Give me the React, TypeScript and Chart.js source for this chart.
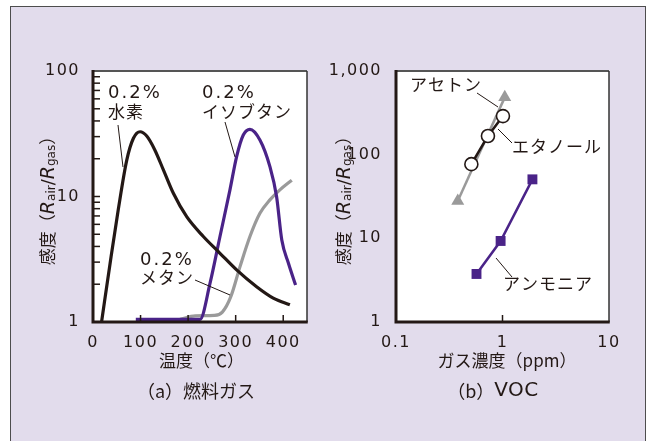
import React, { useEffect, useRef } from 'react';
import { Chart, registerables } from 'chart.js';
Chart.register(...registerables);

// ---------- Data: (a) fuel gases, sensitivity vs temperature ----------
const tempH2 = [18, 36, 53, 71, 85, 99, 113, 130, 148, 169, 197, 232, 267, 302, 344, 379, 414];
const sensH2 = [1, 2.94, 7.8, 19.5, 29.1, 32.8, 30.3, 23.5, 16.3, 10.6, 6.9, 4.8, 3.53, 2.6, 1.91, 1.55, 1.37];
const tempIsobutane = [90, 225, 246, 267, 288, 302, 316, 330, 351, 372, 386, 397, 411, 426];
const sensIsobutane = [1.05, 1.05, 2.03, 4.8, 11.3, 20.8, 30.9, 34.3, 28.2, 17.3, 10, 4.5, 2.94, 1.97];
const tempMethane = [183, 215, 255, 272, 290, 309, 330, 351, 372, 393, 418];
const sensMethane = [1.05, 1.12, 1.13, 1.2, 1.6, 2.75, 4.8, 7.35, 9.4, 11.3, 13.5];

const xTicksA = [0, 100, 200, 300, 400];
const xTickLabelsA = ['0', '100', '200', '300', '400'];
const yTicksA = [1, 10, 100];
const yTickLabelsA = ['1', '10', '100'];
const yMinorTicksA = [2, 3, 4, 5, 6, 7, 8, 9, 10, 20, 30, 40, 50, 60, 70, 80, 90];

// ---------- Data: (b) VOC, sensitivity vs concentration ----------
const concEthanol = [0.51, 0.73, 1.01];
const sensEthanol = [77, 167, 289];
const concAcetone = [0.38, 1.05];
const sensAcetone = [28, 484];
const concAmmonia = [0.57, 0.96, 1.91];
const sensAmmonia = [3.75, 9.3, 50.7];

const xTicksB = [0.1, 1, 10];
const xTickLabelsB = ['0.1', '1', '10'];
const yTicksB = [1, 10, 100, 1000];
const yTickLabelsB = ['1', '10', '100', '1,000'];

// ---------- Styles ----------
const INK = '#231815';
const PURPLE = '#4a2388';
const GRAY = '#9a9a9a';
const LAVENDER = '#e2dcec';
const CJK = '"Noto Sans CJK JP"';
const LAT = '"DejaVu Sans"';

const pts = (xs: number[], ys: number[]) => xs.map((x, i) => ({ x, y: ys[i] }));

type Seg = { t: string; font: string; ls?: number; dy?: number };

function drawRich(ctx: CanvasRenderingContext2D, segs: Seg[], x: number, y: number, align: 'left' | 'center') {
  let total = 0;
  const widths = segs.map((s) => {
    ctx.font = s.font;
    (ctx as any).letterSpacing = (s.ls || 0) + 'px';
    const w = ctx.measureText(s.t).width;
    total += w;
    return w;
  });
  let cx = align === 'center' ? x - total / 2 : x;
  ctx.textAlign = 'left';
  segs.forEach((s, i) => {
    ctx.font = s.font;
    (ctx as any).letterSpacing = (s.ls || 0) + 'px';
    ctx.fillText(s.t, cx, y + (s.dy || 0));
    cx += widths[i];
  });
  (ctx as any).letterSpacing = '0px';
}

function line(ctx: CanvasRenderingContext2D, x1: number, y1: number, x2: number, y2: number, w = 1, c = INK) {
  ctx.strokeStyle = c;
  ctx.lineWidth = w;
  ctx.beginPath();
  ctx.moveTo(x1, y1);
  ctx.lineTo(x2, y2);
  ctx.stroke();
}

function yTitle(ctx: CanvasRenderingContext2D, bx: number, cy: number) {
  ctx.save();
  ctx.translate(bx, cy);
  ctx.rotate(-Math.PI / 2);
  ctx.textBaseline = 'alphabetic';
  ctx.fillStyle = INK;
  drawRich(
    ctx,
    [
      { t: '感度（', font: `17px ${CJK}` },
      { t: 'R', font: `italic 19px ${LAT}` },
      { t: 'air', font: `12px ${LAT}`, dy: 1 },
      { t: '/', font: `18px ${LAT}` },
      { t: 'R', font: `italic 19px ${LAT}` },
      { t: 'gas', font: `12px ${LAT}`, dy: 1 },
      { t: '）', font: `17px ${CJK}` },
    ],
    0,
    0,
    'center'
  );
  ctx.restore();
}

function frame(chart: any, xTickVals: number[], yTickVals: number[]) {
  const { ctx, chartArea: a, scales } = chart;
  ctx.save();
  line(ctx, a.left, a.top, a.right, a.top, 2, '#555');
  line(ctx, a.right, a.top, a.right, a.bottom, 1.5, '#333');
  ctx.lineCap = 'butt';
  xTickVals.forEach((v) => {
    const px = scales.x.getPixelForValue(v);
    line(ctx, px, a.bottom, px, a.bottom - 7, 1.5);
  });
  yTickVals.forEach((v) => {
    const py = scales.y.getPixelForValue(v);
    line(ctx, a.left, py, a.left + 7, py, 1.5);
  });
  ctx.strokeStyle = INK;
  ctx.lineWidth = 3;
  ctx.beginPath();
  ctx.moveTo(a.left, a.top - 1);
  ctx.lineTo(a.left, a.bottom);
  ctx.lineTo(a.right + 0.75, a.bottom);
  ctx.stroke();
  ctx.restore();
}

function basePlugin(after: (chart: any) => void) {
  return {
    id: 'panelDeco',
    beforeDraw(chart: any) {
      const { ctx, chartArea: a } = chart;
      ctx.save();
      ctx.fillStyle = '#ffffff';
      ctx.fillRect(a.left, a.top, a.right - a.left, a.bottom - a.top);
      ctx.restore();
      ctx.letterSpacing = '1.5px';
    },
    beforeDatasetsDraw(chart: any) {
      chart.ctx.letterSpacing = '0px';
    },
    afterDraw(chart: any) {
      chart.ctx.letterSpacing = '0px';
      after(chart);
    },
  };
}

const tickFont = { family: 'DejaVu Sans', size: 16 };

function drawPanelA(chart: any) {
  const { ctx } = chart;
  frame(chart, xTicksA.slice(1), yMinorTicksA);
  ctx.save();
  ctx.fillStyle = INK;
  ctx.textBaseline = 'middle';
  const num = `18px ${LAT}`;
  const jp = `17px ${CJK}`;
  drawRich(ctx, [{ t: '0.2%', font: num, ls: 2 }], 108, 93, 'left');
  drawRich(ctx, [{ t: '水素', font: jp, ls: 1 }], 108, 112, 'left');
  drawRich(ctx, [{ t: '0.2%', font: num, ls: 2 }], 202, 93, 'left');
  drawRich(ctx, [{ t: 'イソブタン', font: jp, ls: 1 }], 202, 112, 'left');
  drawRich(ctx, [{ t: '0.2%', font: num, ls: 2 }], 140, 260, 'left');
  drawRich(ctx, [{ t: 'メタン', font: jp, ls: 1 }], 140, 278, 'left');
  line(ctx, 118, 125, 123, 167, 1);
  line(ctx, 225, 122, 235, 157, 1);
  line(ctx, 195, 280, 230, 295, 1);
  drawRich(ctx, [{ t: '温度（℃）', font: `17px ${CJK}` }], 201.5, 361, 'center');
  drawRich(ctx, [{ t: '（a）燃料ガス', font: `18px ${CJK}` }], 196, 391, 'center');
  ctx.restore();
  yTitle(ctx, 54, 196.5);
}

function drawPanelB(chart: any) {
  const { ctx } = chart;
  frame(chart, [1], []);
  ctx.save();
  ctx.fillStyle = INK;
  ctx.textBaseline = 'middle';
  const jp = `17px ${CJK}`;
  drawRich(ctx, [{ t: 'アセトン', font: jp, ls: 1 }], 410, 85, 'left');
  drawRich(ctx, [{ t: 'エタノール', font: jp, ls: 1 }], 512, 147, 'left');
  drawRich(ctx, [{ t: 'アンモニア', font: jp, ls: 1 }], 503, 284, 'left');
  line(ctx, 477, 93, 498, 107, 1);
  line(ctx, 498, 129, 512, 143, 1);
  line(ctx, 496, 258, 512, 277, 1);
  drawRich(ctx, [{ t: 'ガス濃度（ppm）', font: `17px ${CJK}` }], 507, 361, 'center');
  drawRich(
    ctx,
    [
      { t: '（b）', font: `18px ${CJK}` },
      { t: 'VOC', font: `20px ${LAT}`, ls: 0.5 },
    ],
    493,
    391,
    'center'
  );
  ctx.restore();
  yTitle(ctx, 350, 196.5);
}

function scaleCommon(ticks: number[], labels: string[], padding: number) {
  return {
    grid: { display: false },
    border: { display: false },
    afterBuildTicks: (s: any) => {
      s.ticks = ticks.map((v) => ({ value: v }));
    },
    ticks: {
      font: tickFont,
      color: INK,
      padding,
      autoSkip: false,
      maxRotation: 0,
      callback: (_v: any, i: number) => labels[i],
    },
  };
}

function makeConfigA(): any {
  return {
    type: 'line',
    data: {
      datasets: [
        { data: pts(tempH2, sensH2), borderColor: INK, borderWidth: 3.2, cubicInterpolationMode: 'monotone', pointRadius: 0 },
        { data: pts(tempIsobutane, sensIsobutane), borderColor: PURPLE, borderWidth: 3.2, cubicInterpolationMode: 'monotone', pointRadius: 0 },
        { data: pts(tempMethane, sensMethane), borderColor: GRAY, borderWidth: 3.2, cubicInterpolationMode: 'monotone', pointRadius: 0 },
      ],
    },
    options: {
      responsive: false,
      animation: false,
      devicePixelRatio: 1,
      events: [],
      layout: { padding: { left: 0, top: 71, right: 651 - 307, bottom: 441 - 322 - 30 } },
      plugins: { legend: { display: false }, tooltip: { enabled: false } },
      scales: {
        x: {
          type: 'linear',
          min: 0,
          max: 450,
          ...scaleCommon(xTicksA, xTickLabelsA, 3),
          afterFit: (s: any) => {
            s.height = 30;
          },
        },
        y: {
          type: 'logarithmic',
          min: 1,
          max: 100,
          ...scaleCommon(yTicksA, yTickLabelsA, 5),
          afterFit: (s: any) => {
            s.width = 93;
          },
        },
      },
    },
    plugins: [basePlugin(drawPanelA)],
  };
}

function makeConfigB(): any {
  return {
    type: 'line',
    data: {
      datasets: [
        {
          data: pts(concEthanol, sensEthanol),
          borderColor: INK,
          borderWidth: 2.5,
          pointStyle: 'circle',
          pointRadius: 6.5,
          pointBackgroundColor: '#ffffff',
          pointBorderColor: INK,
          pointBorderWidth: 1.6,
        },
        {
          data: pts(concAcetone, sensAcetone),
          borderColor: GRAY,
          borderWidth: 2.5,
          pointStyle: 'triangle',
          pointRadius: 7.5,
          pointBackgroundColor: GRAY,
          pointBorderColor: GRAY,
          pointBorderWidth: 0,
        },
        {
          data: pts(concAmmonia, sensAmmonia),
          borderColor: PURPLE,
          borderWidth: 2.5,
          pointStyle: 'rect',
          pointRadius: 7,
          pointBackgroundColor: PURPLE,
          pointBorderColor: PURPLE,
          pointBorderWidth: 0,
        },
      ],
    },
    options: {
      responsive: false,
      animation: false,
      devicePixelRatio: 1,
      events: [],
      layout: { padding: { left: 300, top: 71, right: 651 - 609, bottom: 441 - 322 - 30 } },
      plugins: { legend: { display: false }, tooltip: { enabled: false } },
      scales: {
        x: {
          type: 'logarithmic',
          min: 0.1,
          max: 10,
          ...scaleCommon(xTicksB, xTickLabelsB, 3),
          afterFit: (s: any) => {
            s.height = 30;
          },
        },
        y: {
          type: 'logarithmic',
          min: 1,
          max: 1000,
          ...scaleCommon(yTicksB, yTickLabelsB, 6),
          afterFit: (s: any) => {
            s.width = 96;
          },
        },
      },
    },
    plugins: [basePlugin(drawPanelB)],
  };
}

export default function App() {
  const refA = useRef<HTMLCanvasElement>(null);
  const refB = useRef<HTMLCanvasElement>(null);
  useEffect(() => {
    const a = new Chart(refA.current as HTMLCanvasElement, makeConfigA());
    const b = new Chart(refB.current as HTMLCanvasElement, makeConfigB());
    return () => {
      a.destroy();
      b.destroy();
    };
  }, []);
  const canvasStyle: React.CSSProperties = { position: 'absolute', left: 0, top: 0, width: 651, height: 441 };
  return (
    <div style={{ position: 'fixed', left: 0, top: 0, width: 651, height: 441, background: '#ffffff', overflow: 'hidden' }}>
      <div
        style={{
          position: 'absolute',
          left: 10,
          top: 6,
          width: 636,
          height: 500,
          boxSizing: 'border-box',
          background: LAVENDER,
          border: '1.5px solid #4d4d4d',
        }}
      />
      <canvas ref={refA} width={651} height={441} style={canvasStyle} />
      <canvas ref={refB} width={651} height={441} style={canvasStyle} />
    </div>
  );
}
